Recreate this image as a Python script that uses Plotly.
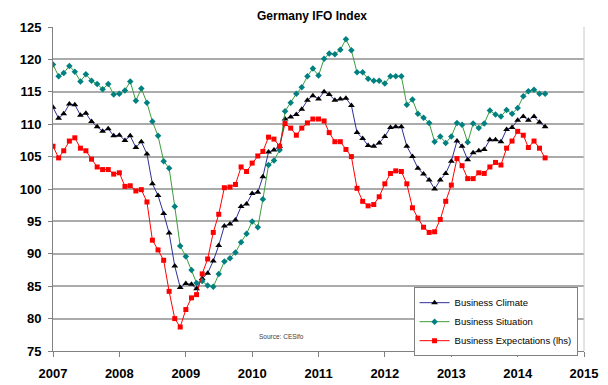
import pandas as pd
import plotly.graph_objects as go

months = pd.date_range("2007-01-01", periods=90, freq="MS")

business_climate = [
    112.6, 110.9, 111.6, 113.1, 113.0, 111.4, 111.7, 110.4, 109.6, 108.9, 109.3, 108.2,
    108.3, 107.5, 108.2, 106.4, 107.3, 105.4, 100.8, 99.0, 96.2, 93.2, 88.1, 84.8,
    85.4, 85.3, 84.6, 86.2, 87.0, 88.9, 91.3, 94.3, 94.6, 95.2, 97.3, 97.7,
    99.3, 99.5, 101.9, 105.7, 106.0, 106.6, 110.8, 111.1, 111.5, 112.3, 113.7, 114.4,
    113.9, 115.0, 114.6, 113.7, 113.9, 114.0, 112.9, 108.7, 107.8, 106.7, 106.6, 107.1,
    108.1, 109.5, 109.6, 109.6, 106.6, 105.0, 103.2, 102.3, 101.4, 100.0, 101.4, 102.4,
    104.3, 107.4, 106.6, 104.5, 105.6, 105.9, 106.1, 107.6, 107.6, 107.3, 109.2, 109.5,
    110.6, 111.2, 110.6, 111.2, 110.3, 109.6,
]

business_situation = [
    119.2, 117.4, 117.9, 119.0, 118.1, 116.6, 117.7, 116.7, 116.2, 115.4, 116.2, 114.6,
    114.7, 115.2, 116.6, 113.6, 115.5, 113.3, 110.4, 108.2, 104.3, 103.2, 97.3, 91.2,
    89.6, 87.5, 85.5, 85.8, 85.1, 84.9, 86.9, 88.8, 89.3, 90.2, 91.8, 93.1,
    95.0, 94.1, 98.4, 103.7, 104.4, 106.0, 112.0, 113.3, 114.7, 115.7, 117.4, 118.6,
    117.5, 120.1, 120.9, 120.8, 121.5, 123.1, 121.4, 118.0, 118.0, 117.0, 116.7, 116.7,
    116.3, 117.4, 117.4, 117.4, 113.0, 113.8, 111.6, 111.0, 110.2, 107.3, 108.1, 107.1,
    108.1, 110.2, 109.9, 107.2, 110.1, 109.4, 110.1, 112.1, 111.5, 111.2, 112.2, 111.6,
    112.5, 114.3, 115.1, 115.3, 114.7, 114.7,
]

business_expectations = [
    106.6, 104.8, 105.9, 107.4, 107.9, 106.3, 105.9, 104.6, 103.4, 103.0, 103.0, 102.3,
    102.5, 100.4, 100.5, 99.7, 99.9, 98.0, 92.1, 90.6, 89.0, 84.2, 80.0, 78.7,
    81.4, 83.2, 83.7, 86.9, 89.2, 93.3, 96.1, 100.2, 100.3, 100.7, 103.4, 102.7,
    104.0, 105.1, 105.8, 108.0, 107.7, 106.6, 110.1, 109.4, 108.3, 109.4, 110.2, 110.8,
    110.8, 110.5, 108.7, 107.3, 107.3, 106.1, 105.0, 100.1, 98.1, 97.4, 97.6, 98.8,
    100.8, 102.4, 102.8, 102.7, 100.8, 97.1, 95.5, 94.1, 93.3, 93.4, 95.3, 98.1,
    100.6, 104.7, 103.6, 101.6, 101.6, 102.5, 102.4, 103.4, 104.1, 103.7, 106.3, 107.4,
    108.9, 108.3, 106.4, 107.4, 106.3, 104.8,
]

y_ticks = [75, 80, 85, 90, 95, 100, 105, 110, 115, 120, 125]

fig = go.Figure()
fig.add_trace(go.Scatter(
    x=months, y=business_climate, name="Business Climate", mode="lines+markers",
    legendgroup="c",
    line=dict(color="#2E2E99", width=1),
    marker=dict(symbol="triangle-up", size=6, color="#000000"),
))
fig.add_trace(go.Scatter(
    x=months, y=business_situation, name="Business Situation", mode="lines+markers",
    legendgroup="s",
    line=dict(color="#3C9E3C", width=1),
    marker=dict(symbol="diamond", size=5, color="#008080"),
))
fig.add_trace(go.Scatter(
    x=months, y=business_expectations, name="Business Expectations (lhs)", mode="lines+markers",
    legendgroup="e",
    line=dict(color="#FF0000", width=1),
    marker=dict(symbol="square", size=5, color="#FF0000"),
))

tickfont = dict(family="Liberation Sans, Arial", size=13, color="#000000", weight="bold")

fig.update_layout(
    width=608, height=385,
    margin=dict(l=39, r=32, t=19, b=31),
    paper_bgcolor="#FFFFFF", plot_bgcolor="#FFFFFF",
    title=dict(text="<b>Germany IFO Index</b>", x=0.5, xref="container", xanchor="center",
               y=1 - 8 / 385, yref="container", yanchor="middle",
               font=dict(family="Liberation Sans, Arial", size=12, color="#000000")),
    xaxis=dict(
        type="date", range=["2007-01-01", "2015-01-01"],
        tick0="2007-01-01", dtick="M12", tickformat="%Y",
        showgrid=False, zeroline=False,
        showline=True, linecolor="#808080", linewidth=1,
        ticks="outside", ticklen=5, tickcolor="#808080",
        tickfont=tickfont, ticklabelstandoff=5,
    ),
    yaxis=dict(
        range=[75, 125], tickvals=y_ticks,
        showgrid=True, gridcolor="#ABABAB", gridwidth=1.5,
        zeroline=False,
        showline=True, linecolor="#808080", linewidth=1,
        ticks="outside", ticklen=4, tickcolor="#808080",
        tickfont=tickfont, ticklabelstandoff=4,
    ),
    legend=dict(
        x=0.679, y=0.197, xanchor="left", yanchor="top",
        bgcolor="#FFFFFF", bordercolor="#808080", borderwidth=1,
        tracegroupgap=0,
        font=dict(family="Liberation Sans, Arial", size=9.5, color="#000000"),
    ),
    showlegend=True,
)

fig.add_shape(type="line", xref="paper", yref="paper", x0=1, x1=1, y0=0, y1=1,
              line=dict(color="#C8C8C8", width=1))

fig.add_annotation(text="Source: CESifo", xref="paper", yref="paper",
                   x=(270 - 39.3) / 536.7, y=(354.3 - 339.3) / 335,
                   xanchor="center", yanchor="middle", showarrow=False,
                   font=dict(family="Liberation Sans, Arial", size=6.5, color="#404040"))

fig.write_html("out.html")
